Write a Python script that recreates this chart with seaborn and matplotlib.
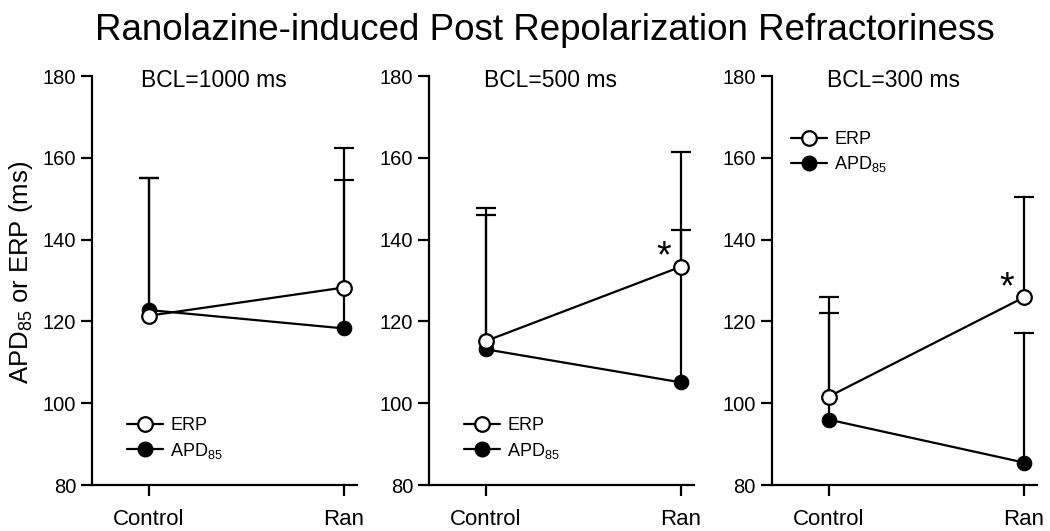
import matplotlib
matplotlib.use("Agg")
import matplotlib.pyplot as plt
import numpy as np
import pandas as pd
import seaborn as sns
from matplotlib.lines import Line2D

# values (ms)
conditions = ["Control", "Ran"]
panel_titles = ["BCL=1000 ms", "BCL=500 ms", "BCL=300 ms"]
erp_mean = [[121.4, 128.3], [115.2, 133.4], [101.6, 125.9]]
erp_upper = [[155.0, 162.5], [147.8, 161.4], [125.9, 150.5]]
apd_mean = [[122.8, 118.3], [113.2, 105.1], [96.0, 85.5]]
apd_upper = [[155.0, 154.6], [146.1, 142.3], [122.1, 117.2]]
significant = [False, True, True]  # asterisk at Ran

sns.set_style("ticks")
plt.rcParams['font.family'] = ['Liberation Sans', 'DejaVu Sans']
plt.rcParams['mathtext.fontset'] = 'custom'
plt.rcParams['mathtext.rm'] = 'Liberation Sans'
plt.rcParams['mathtext.it'] = 'Liberation Sans'
plt.rcParams['text.color'] = 'black'
plt.rcParams['axes.labelcolor'] = 'black'

fig = plt.figure(figsize=(10.5, 5.31), dpi=100)
lefts = [0.0876, 0.4086, 0.7352]
axes = [fig.add_axes([l, 0.0866, 0.2524, 0.770]) for l in lefts]

x = np.arange(len(conditions))
for i, ax in enumerate(axes):
    df = pd.DataFrame({
        "x": np.concatenate([x, x]),
        "value": erp_mean[i] + apd_mean[i],
        "series": ["ERP"] * 2 + ["APD"] * 2,
    })
    # upper-only error bars, lower cap hidden
    for mean, upper in [(apd_mean[i], apd_upper[i]), (erp_mean[i], erp_upper[i])]:
        err = np.array(upper) - np.array(mean)
        _, caps, _ = ax.errorbar(x, mean, yerr=[np.zeros(2), err], fmt="none", ecolor="black",
                                 elinewidth=1.6, capsize=7.5, capthick=1.6, zorder=1)
        caps[0].set_visible(False)
    sns.lineplot(data=df[df.series == "APD"], x="x", y="value", ax=ax, color="black",
                 linewidth=1.6, marker="o", markersize=10.5, markerfacecolor="black",
                 markeredgecolor="black", legend=False, zorder=2)
    sns.lineplot(data=df[df.series == "ERP"], x="x", y="value", ax=ax, color="black",
                 linewidth=1.6, marker="o", markersize=10.5, markerfacecolor="white",
                 markeredgecolor="black", markeredgewidth=1.6, legend=False, zorder=3)

    if significant[i]:
        ax.text(0.91, erp_mean[i][1] + 2.2, "*", fontsize=27, ha="center", va="center")

    ax.set_xlim(-0.29, 1.067)
    ax.set_ylim(80, 180)
    ax.set_yticks([80, 100, 120, 140, 160, 180])
    ax.set_xticks(x)
    ax.set_xticklabels(conditions)
    ax.set_xlabel("")
    ax.set_ylabel("")
    ax.tick_params(axis="both", direction="out", length=8, width=1.6, labelsize=14.5,
                   colors="black")
    ax.tick_params(axis="x", pad=9, labelsize=16)
    for side in ["left", "bottom"]:
        ax.spines[side].set_linewidth(1.6)
        ax.spines[side].set_color("black")
    sns.despine(ax=ax)
    ax.text(0.46, 0.99, panel_titles[i], transform=ax.transAxes, ha="center", va="center",
            fontsize=16.5)

    handles = [
        Line2D([], [], color="black", lw=1.6, marker="o", markersize=10.5,
               markerfacecolor="white", markeredgewidth=1.6),
        Line2D([], [], color="black", lw=1.6, marker="o", markersize=10.5,
               markerfacecolor="black"),
    ]
    loc = (0.07, 0.02) if i < 2 else (0.01, 0.72)
    ax.legend(handles, ["ERP", "APD$_{85}$"], loc="lower left", bbox_to_anchor=loc,
              frameon=False, fontsize=13, handlelength=2.0, handletextpad=0.4,
              labelspacing=0.35)

axes[0].set_ylabel("APD$_{85}$ or ERP (ms)", fontsize=18.5)
axes[0].yaxis.set_label_coords(-0.215, 0.52)
fig.text(0.519, 0.975, "Ranolazine-induced Post Repolarization Refractoriness",
         fontsize=26.5, ha="center", va="top")

fig.savefig("out.png", dpi=100)
